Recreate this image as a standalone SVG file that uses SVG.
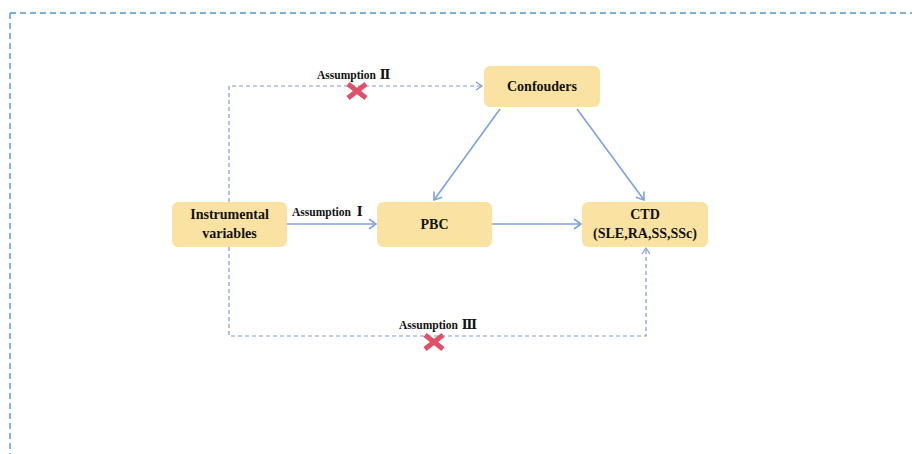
<svg xmlns="http://www.w3.org/2000/svg" width="912" height="454" viewBox="0 0 912 454">
<style>
.box{fill:#FAE3A2;}
.lbl{font-family:"Liberation Serif","Noto Sans CJK SC",serif;font-weight:bold;font-size:14px;fill:#111;text-anchor:middle;}
.asm{font-family:"Liberation Serif","Noto Sans CJK SC",serif;font-weight:bold;font-size:11.5px;fill:#111;}
.num{font-family:"DejaVu Serif","Noto Sans CJK SC",serif;font-weight:bold;font-size:12.5px;}
.solid{stroke:#7FA1E0;stroke-width:1.6;fill:none;}
.dash{stroke:#8598CC;stroke-width:1.2;fill:none;stroke-dasharray:4 3;}
.border{stroke:#4E97D1;stroke-width:1.4;fill:none;stroke-dasharray:6 4;}
.cross{stroke:#E05068;stroke-width:5;stroke-linecap:butt;}
</style>
<defs>
<marker id="ah" markerWidth="12" markerHeight="12" refX="9" refY="6" orient="auto" markerUnits="userSpaceOnUse">
<path d="M2,1 L9,6 L2,11" fill="none" stroke="#7FA1E0" stroke-width="1.6"/>
</marker>
<marker id="ahd" markerWidth="10" markerHeight="10" refX="8" refY="5" orient="auto" markerUnits="userSpaceOnUse">
<path d="M2,1 L8,5 L2,9" fill="none" stroke="#8598CC" stroke-width="1.2"/>
</marker>
</defs>
<rect width="912" height="454" fill="#fff"/>
<g id="frame">
<path class="border" d="M10,13 H912 M10,13 V454"/>
</g>
<g id="connectors">
<line class="solid" x1="287" y1="224" x2="376" y2="224" marker-end="url(#ah)"/>
<line class="solid" x1="492" y1="224" x2="581" y2="224" marker-end="url(#ah)"/>
<line class="solid" x1="500" y1="109" x2="434" y2="200" marker-end="url(#ah)"/>
<line class="solid" x1="577" y1="109" x2="644" y2="200" marker-end="url(#ah)"/>
<path class="dash" d="M229,202 V86 H482" marker-end="url(#ahd)"/>
<path class="dash" d="M229,247 V336 H646 V248" marker-end="url(#ahd)"/>
<text class="asm" x="292" y="216">Assumption <tspan class="num" dx="3">Ⅰ</tspan></text>
<text class="asm" x="317" y="79">Assumption <tspan class="num" dx="1">Ⅱ</tspan></text>
<text class="asm" x="399" y="329">Assumption <tspan class="num" dx="1">Ⅲ</tspan></text>
<g id="x1">
<line class="cross" x1="348" y1="84" x2="366" y2="98"/>
<line class="cross" x1="366" y1="84" x2="348" y2="98"/>
</g>
<g id="x2">
<line class="cross" x1="425" y1="335" x2="443" y2="349"/>
<line class="cross" x1="443" y1="335" x2="425" y2="349"/>
</g>
</g>
<g id="confounders">
<rect class="box" x="484" y="66" width="116" height="41" rx="6"/>
<text class="lbl" x="542" y="91">Confouders</text>
</g>
<g id="iv">
<rect class="box" x="172" y="202" width="115" height="45" rx="6"/>
<text class="lbl" x="229.5" y="219">Instrumental</text>
<text class="lbl" x="229.5" y="238">variables</text>
</g>
<g id="pbc">
<rect class="box" x="377" y="202" width="115" height="45" rx="6"/>
<text class="lbl" x="434.5" y="229">PBC</text>
</g>
<g id="ctd">
<rect class="box" x="582" y="202" width="126" height="45" rx="6"/>
<text class="lbl" x="645" y="219">CTD</text>
<text class="lbl" x="645" y="238">(SLE,RA,SS,SSc)</text>
</g>
</svg>
